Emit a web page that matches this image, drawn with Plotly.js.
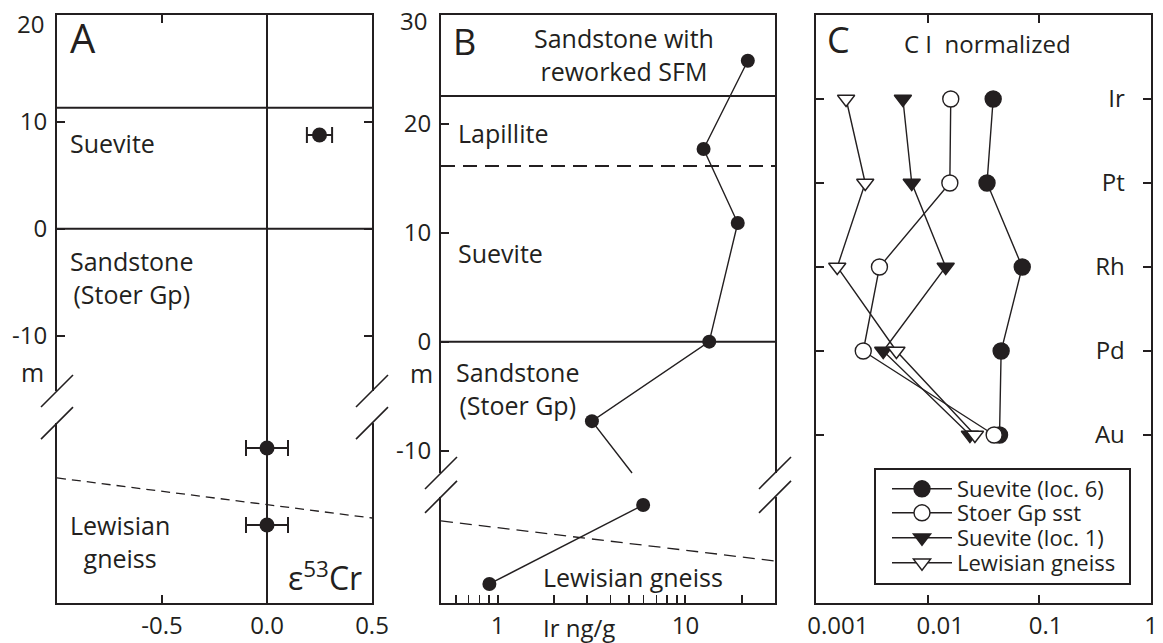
<!DOCTYPE html>
<html>
<head>
<meta charset="utf-8">
<script src="https://cdn.plot.ly/plotly-3.0.1.min.js"></script>
<style>html,body{margin:0;padding:0;background:#fff}#chart{width:1163px;height:643px}</style>
</head>
<body>
<div id="chart"></div>
<script>
// ---------- Panel A: epsilon 53Cr vs depth ----------
var crDepth = [8.77, -20.5, -27.7];
var crEps = [0.25, 0.0, 0.0];
var crErr = [0.06, 0.10, 0.10];
var aSolidBounds = [11.33, 0];
var aDashed = [-23.3, -27.05];       // sloping contact, left and right ends
var aBreak = [-15.17, -18.17];
var aYTicks = [20, 10, 0, -10];

// ---------- Panel B: Ir ng/g vs depth ----------
var irDepth = [25.8, 17.7, 10.9, 0, -7.3, -15.0, -22.25];
var irConc = [21.5, 12.5, 19.0, 13.4, 3.18, 5.96, 0.905];
var irLineEnd = {conc: 5.2, depth: -12.06};   // line leaving -7.3 m towards the break
var bSolidBounds = [22.56, 0];
var bDashedBound = 16.13;
var bDashed = [-16.46, -20.14];
var bBreak = [-12.06, -14.26];
var bYTicks = [30, 20, 10, 0, -10];

// ---------- Panel C: CI normalized PGE ----------
var elements = ['Ir', 'Pt', 'Rh', 'Pd', 'Au'];
var suevite6 = [0.0386, 0.034, 0.0703, 0.0455, 0.044];
var stoerSst = [0.0161, 0.0158, 0.0037, 0.00265, 0.0394];
var suevite1 = [0.0060, 0.0072, 0.0145, 0.0040, 0.0239];
var lewisian = [0.00186, 0.00276, 0.00155, 0.00525, 0.0265];
var seriesNames = ['Suevite (loc. 6)', 'Stoer Gp sst', 'Suevite (loc. 1)', 'Lewisian gneiss'];
var cXTicks = [0.001, 0.01, 0.1, 1];
var cXTickText = ['0.001', '0.01', '0.1', '1'];

var W = 1163, H = 643;
var INK = '#231f20';
var FONT = 'Open Sans, sans-serif';
var yDom = [1 - 603 / H, 1 - 15 / H];
function px(x) { return x / W; }
function py(y) { return 1 - y / H; }
var NB = '\u00a0';
function pad(n) { var s = ''; for (var i = 0; i < n; i++) s += NB; return s; }

var elemIdx = elements.map(function (e, i) { return i; });

var traces = [];
traces.push({
  x: crEps, y: crDepth, xaxis: 'x', yaxis: 'y', type: 'scatter', mode: 'markers',
  marker: {color: INK, size: 15},
  error_x: {type: 'data', array: crErr, visible: true, color: INK, thickness: 2, width: 8},
  showlegend: false, hoverinfo: 'skip'
});
// B line path (upper section + stub into break, gap, lower section)
var bx = irConc.slice(0, 5).concat([irLineEnd.conc, null]).concat(irConc.slice(5));
var by = irDepth.slice(0, 5).concat([irLineEnd.depth, null]).concat(irDepth.slice(5));
traces.push({
  x: bx, y: by, xaxis: 'x2', yaxis: 'y2', type: 'scatter', mode: 'lines',
  line: {color: INK, width: 1.4}, connectgaps: false, showlegend: false, hoverinfo: 'skip'
});
traces.push({
  x: irConc, y: irDepth, xaxis: 'x2', yaxis: 'y2', type: 'scatter', mode: 'markers',
  marker: {color: INK, size: 14}, showlegend: false, hoverinfo: 'skip'
});
var cData = [suevite6, stoerSst, suevite1, lewisian];
var cSym = ['circle', 'circle', 'triangle-down', 'triangle-down'];
var cFill = [INK, '#ffffff', INK, '#ffffff'];
var cSize = [16, 16, 15, 15];
var legIds = ['legend', 'legend2', 'legend3', 'legend4'];
for (var i = 0; i < 4; i++) {
  traces.push({
    x: cData[i], y: elemIdx, xaxis: 'x3', yaxis: 'y3', type: 'scatter', mode: 'lines+markers',
    name: seriesNames[i], legend: legIds[i],
    line: {color: INK, width: 1.4},
    marker: {symbol: cSym[i], color: cFill[i], size: cSize[i], line: {color: INK, width: 1.4}},
    hoverinfo: 'skip'
  });
}

var axBase = {
  showline: true, linecolor: INK, linewidth: 2, ticks: 'inside', ticklen: 8,
  tickwidth: 2, tickcolor: INK, showgrid: false, zeroline: false, ticklabeloverflow: 'allow',
  tickfont: {family: FONT, size: 24, color: INK}, fixedrange: true
};
function ax(o) { var r = {}; for (var k in axBase) r[k] = axBase[k]; for (var k2 in o) r[k2] = o[k2]; return r; }

var shapes = [];
function hline(xr, yr, y, w, dash) {
  shapes.push({type: 'line', xref: xr + ' domain', yref: yr, x0: 0, x1: 1, y0: y, y1: y,
    line: {color: INK, width: w, dash: dash || 'solid'}, layer: 'above'});
}
function sline(xr, yr, y0, y1, w, dash) {
  shapes.push({type: 'line', xref: xr + ' domain', yref: yr, x0: 0, x1: 1, y0: y0, y1: y1,
    line: {color: INK, width: w, dash: dash}, layer: 'above'});
}
function axisBreak(xr, yr, b) {
  [0, 1].forEach(function (side) {
    shapes.push({type: 'rect', xref: xr + ' domain', yref: yr, xsizemode: 'pixel', xanchor: side,
      x0: -4, x1: 4, y0: b[0], y1: b[1], fillcolor: '#ffffff', line: {width: 0}, layer: 'above'});
    b.forEach(function (v) {
      shapes.push({type: 'line', xref: xr + ' domain', yref: yr, xsizemode: 'pixel', xanchor: side,
        ysizemode: 'pixel', yanchor: v, x0: -16, x1: 16, y0: -16, y1: 16,
        line: {color: INK, width: 1.6}, layer: 'above'});
    });
  });
}
// Panel A
aSolidBounds.forEach(function (v) { hline('x', 'y', v, 2); });
shapes.push({type: 'line', xref: 'x', yref: 'y domain', x0: 0, x1: 0, y0: 0, y1: 1,
  line: {color: INK, width: 2}, layer: 'above'});
sline('x', 'y', aDashed[0], aDashed[1], 1.3, '9px,6px');
axisBreak('x', 'y', aBreak);
// Panel B
bSolidBounds.forEach(function (v) { hline('x2', 'y2', v, 2); });
hline('x2', 'y2', bDashedBound, 2, '14px,8px');
sline('x2', 'y2', bDashed[0], bDashed[1], 1.3, '12px,7px');
axisBreak('x2', 'y2', bBreak);
// Panel C legend frame
shapes.push({type: 'rect', xref: 'paper', yref: 'paper', x0: px(875), x1: px(1130), y0: py(584), y1: py(469),
  line: {color: INK, width: 2}, fillcolor: 'rgba(0,0,0,0)', layer: 'above'});

var annotations = [];
function ann(text, x, y, size, anchor) {
  annotations.push({text: text, xref: 'paper', yref: 'paper', x: px(x), y: py(y),
    xanchor: anchor || 'left', yanchor: 'middle', showarrow: false,
    font: {family: FONT, size: size, color: INK}});
}
ann('A', 68, 38, 40);
ann('Suevite', 68, 143, 25);
ann('Sandstone<br>(Stoer Gp)', 68, 277, 25);
ann('Lewisian<br>gneiss', 68, 541, 25);
ann('ε<sup>53</sup>Cr', 364, 576, 32, 'right');
ann('m', 32, 372, 25, 'center');
ann(String(aYTicks[0]), 46, 23, 24, 'right');     // top tick label, nudged below the page edge
ann('B', 451, 41, 36);
ann('Sandstone with<br>reworked SFM', 624, 54, 25, 'center');
ann('Lapillite', 456, 133, 25);
ann('Suevite', 456, 253, 25);
ann('Sandstone<br>(Stoer Gp)', 454, 388, 25);
ann('Lewisian gneiss', 633, 577, 25, 'center');
ann('Ir ng/g', 579, 627, 24, 'center');
ann('m', 421, 373, 25, 'center');
ann(String(bYTicks[0]), 429, 21, 24, 'right');
ann('C', 825, 40, 36);
ann('C I  normalized', 987, 43, 24, 'center');

var minorB = [0.6, 0.7, 0.8, 0.9, 2, 3, 4, 5, 6, 7, 8, 9, 20];
var cPads = [7, 4, 2, 0];
var aYAxisTicks = aYTicks.slice(1);   // top tick coincides with the frame; its label is an annotation
var bYAxisTicks = bYTicks.slice(1);

var layout = {
  width: W, height: H, margin: {l: 0, r: 0, t: 0, b: 0},
  paper_bgcolor: '#fff', plot_bgcolor: '#fff',
  font: {family: FONT, color: INK},
  xaxis: ax({domain: [px(57), px(372)], anchor: 'y', range: [-1, 0.5],
    tickvals: [-0.5, 0, 0.5], ticktext: ['-0.5', '0.0', '0.5'], mirror: 'ticks'}),
  yaxis: ax({domain: yDom, anchor: 'x', range: [-35, 20],
    tickvals: aYAxisTicks, ticktext: aYAxisTicks.map(String),
    mirror: 'ticks', ticklabelstandoff: 3}),
  xaxis2: ax({domain: [px(441), px(775)], anchor: 'y2', type: 'log',
    range: [Math.log10(0.5), Math.log10(30)], tickvals: [1, 10], ticktext: ['1', '10'], mirror: true,
    minor: {tickvals: minorB, ticks: 'inside', ticklen: 8, tickwidth: 1.5, tickcolor: INK, showgrid: false}}),
  yaxis2: ax({domain: yDom, anchor: 'x2', range: [-24, 30],
    tickvals: bYAxisTicks, ticktext: bYAxisTicks.map(String),
    mirror: true, ticklabelstandoff: 3}),
  xaxis3: ax({domain: [px(816), px(1151)], anchor: 'y3', type: 'log', range: [-3, 0],
    tickvals: cXTicks, ticktext: cXTickText.map(function (t, k) { return pad(cPads[k]) + t; }),
    mirror: 'ticks'}),
  yaxis3: ax({domain: yDom, anchor: 'x3', range: [6, -1], side: 'right',
    tickvals: elemIdx, ticktext: elements, ticklabelposition: 'inside', mirror: 'ticks',
    ticklabelstandoff: 20}),
  shapes: shapes,
  annotations: annotations,
  showlegend: true
};
var legY = [489, 513, 538, 563];
legIds.forEach(function (id, k) {
  layout[id] = {x: px(887), y: py(legY[k]), xanchor: 'left', yanchor: 'middle',
    bgcolor: 'rgba(0,0,0,0)', borderwidth: 0, font: {family: FONT, size: 22, color: INK},
    itemwidth: 60};
});

Plotly.newPlot('chart', traces, layout, {displayModeBar: false, staticPlot: true});
</script>
</body>
</html>
